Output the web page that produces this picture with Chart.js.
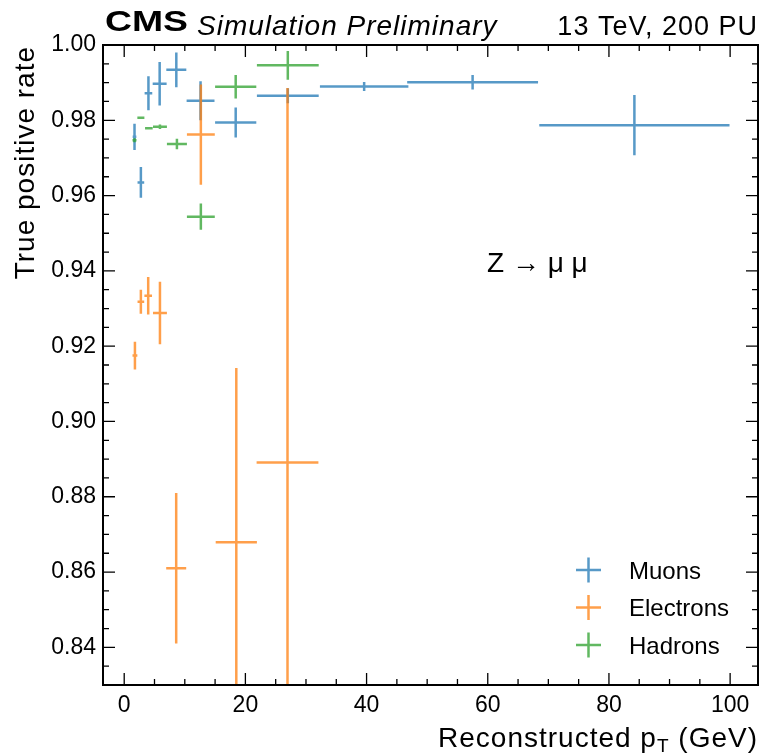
<!DOCTYPE html>
<html>
<head>
<meta charset="utf-8">
<script src="https://cdn.jsdelivr.net/npm/chart.js@4.4.1/dist/chart.umd.min.js"></script>
<style>
  html, body { margin: 0; padding: 0; background: #fff; }
  #wrap { width: 761px; height: 754px; }
</style>
</head>
<body>
<div id="wrap"><canvas id="chart" width="761" height="754"></canvas></div>
<script>
// values
const muonX = [1.7, 2.75, 4.0, 5.85, 8.6, 12.6, 18.4, 27.0, 39.6, 57.5, 84.2];
const muonXErr = [0.3, 0.55, 0.63, 1.15, 1.65, 2.3, 3.4, 5.1, 7.3, 10.8, 15.7];
const muonY = [0.9756, 0.9635, 0.9872, 0.9897, 0.9934, 0.9852, 0.9794, 0.9865, 0.9890, 0.9901, 0.9787];
const muonYErr = [0.0035, 0.0041, 0.0045, 0.0058, 0.0046, 0.0052, 0.0040, 0.0020, 0.0012, 0.0019, 0.0080];

const electronX = [1.77, 2.75, 3.96, 5.9, 8.58, 12.65, 18.5, 26.95];
const electronXErr = [0.4, 0.55, 0.63, 1.15, 1.65, 2.3, 3.4, 5.1];
const electronY = [0.9175, 0.9318, 0.9334, 0.9288, 0.8610, 0.9762, 0.8679, 0.8891];
const electronYErr = [0.0037, 0.0032, 0.0050, 0.0083, 0.0200, 0.0133, 0.0463, 0.0995];

const hadronX = [1.7, 2.75, 4.07, 5.9, 8.7, 12.65, 18.4, 27.0];
const hadronXErr = [0.33, 0.58, 0.63, 1.15, 1.65, 2.3, 3.4, 5.1];
const hadronY = [0.9747, 0.9807, 0.9779, 0.9783, 0.9737, 0.9544, 0.9889, 0.9946];
const hadronYErr = [0.0005, 0.0003, 0.0003, 0.0006, 0.0014, 0.0035, 0.0031, 0.0038];

const xTicks = [0, 20, 40, 60, 80, 100];
const yTicks = [0.84, 0.86, 0.88, 0.90, 0.92, 0.94, 0.96, 0.98, 1.00];

const FONT = '"Liberation Sans", Arial, sans-serif';

function points(xs, xe, ys, ye) {
    return xs.map((x, i) => ({ x: x, y: ys[i], xErr: xe[i], yErr: ye[i] }));
}

// crosses: x bin width and y uncertainty
const errorBars = {
    id: 'errorBars',
    afterDatasetsDraw(chart) {
        const { ctx, chartArea: a, scales: { x, y } } = chart;
        ctx.save();
        ctx.beginPath();
        ctx.rect(a.left, a.top, a.width, a.height);
        ctx.clip();
        chart.data.datasets.forEach(ds => {
            ctx.strokeStyle = ds.borderColor;
            ctx.lineWidth = 2.5;
            ds.data.forEach(p => {
                const px = x.getPixelForValue(p.x);
                const py = y.getPixelForValue(p.y);
                ctx.beginPath();
                ctx.moveTo(x.getPixelForValue(p.x - p.xErr), py);
                ctx.lineTo(x.getPixelForValue(p.x + p.xErr), py);
                ctx.moveTo(px, y.getPixelForValue(p.y - p.yErr));
                ctx.lineTo(px, y.getPixelForValue(p.y + p.yErr));
                ctx.stroke();
            });
        });
        ctx.restore();
    }
};

// frame, inward ticks, labels, legend
const decorations = {
    id: 'decorations',
    afterDraw(chart) {
        const { ctx, chartArea: a, scales: { x, y } } = chart;
        ctx.save();
        ctx.strokeStyle = '#000';
        ctx.lineWidth = 1.3;
        ctx.beginPath();
        for (let v = 0; v <= x.max; v += 5) {
            const px = x.getPixelForValue(v);
            const len = xTicks.includes(v) ? 12 : 6;
            ctx.moveTo(px, a.bottom); ctx.lineTo(px, a.bottom - len);
            ctx.moveTo(px, a.top); ctx.lineTo(px, a.top + len);
        }
        for (let k = 166; k <= 200; k++) {
            const v = k * 0.005;
            const py = y.getPixelForValue(v);
            const len = (k % 4 === 0) ? 12 : 6;
            ctx.moveTo(a.left, py); ctx.lineTo(a.left + len, py);
            ctx.moveTo(a.right, py); ctx.lineTo(a.right - len, py);
        }
        ctx.stroke();

        ctx.lineWidth = 2;
        ctx.strokeRect(a.left, a.top, a.width, a.height);

        ctx.fillStyle = '#000';
        ctx.textBaseline = 'alphabetic';

        // CMS label
        ctx.font = 'bold 30px ' + FONT;
        const w = ctx.measureText('CMS').width;
        ctx.save();
        ctx.translate(a.left + 2, 31);
        ctx.scale(83 / w, 1);
        ctx.fillText('CMS', 0, 0);
        ctx.restore();
        ctx.letterSpacing = '1px';
        ctx.font = 'italic 28px ' + FONT;
        ctx.textAlign = 'left';
        ctx.fillText('Simulation Preliminary', 197, 35);
        ctx.font = '27px ' + FONT;
        ctx.textAlign = 'right';
        ctx.fillText('13 TeV, 200 PU', a.right, 35);

        // x title with subscript
        ctx.font = '28px ' + FONT;
        const tail = ' (GeV)';
        const tailW = ctx.measureText(tail).width;
        ctx.textAlign = 'right';
        ctx.fillText(tail, a.right, 747);
        ctx.font = '19px ' + FONT;
        const subW = ctx.measureText('T').width;
        ctx.fillText('T', a.right - tailW, 752);
        ctx.font = '28px ' + FONT;
        ctx.fillText('Reconstructed p', a.right - tailW - subW, 747);

        // y title
        ctx.save();
        ctx.translate(34, a.top + 1);
        ctx.rotate(-Math.PI / 2);
        ctx.textAlign = 'right';
        ctx.fillText('True positive rate', 0, 0);
        ctx.restore();

        // annotation
        ctx.letterSpacing = '0px';
        ctx.textAlign = 'left';
        ctx.font = '28px ' + FONT;
        ctx.fillText('Z \u2192 \u03bc \u03bc', 487, 272);

        // legend
        const rows = [570, 607.5, 645];
        ctx.font = '24px ' + FONT;
        chart.data.datasets.forEach((ds, i) => {
            const cy = rows[i];
            ctx.strokeStyle = ds.borderColor;
            ctx.lineWidth = 2.5;
            ctx.beginPath();
            ctx.moveTo(576, cy); ctx.lineTo(601, cy);
            ctx.moveTo(588.5, cy - 12.5); ctx.lineTo(588.5, cy + 12.5);
            ctx.stroke();
            ctx.fillStyle = '#000';
            ctx.fillText(ds.label, 629, cy + 8.5);
        });
        ctx.restore();
    }
};

new Chart(document.getElementById('chart'), {
    type: 'scatter',
    data: {
        datasets: [{
            label: 'Muons',
            data: points(muonX, muonXErr, muonY, muonYErr),
            borderColor: 'rgba(31, 119, 180, 0.75)',
            backgroundColor: 'rgba(31, 119, 180, 0.75)'
        }, {
            label: 'Electrons',
            data: points(electronX, electronXErr, electronY, electronYErr),
            borderColor: 'rgba(255, 127, 14, 0.75)',
            backgroundColor: 'rgba(255, 127, 14, 0.75)'
        }, {
            label: 'Hadrons',
            data: points(hadronX, hadronXErr, hadronY, hadronYErr),
            borderColor: 'rgba(44, 160, 44, 0.75)',
            backgroundColor: 'rgba(44, 160, 44, 0.75)'
        }]
    },
    options: {
        responsive: false,
        devicePixelRatio: 1,
        animation: false,
        elements: { point: { radius: 0, hoverRadius: 0 } },
        layout: { padding: { left: 0, right: 3, top: 45, bottom: 0 } },
        plugins: {
            legend: { display: false },
            tooltip: { enabled: false }
        },
        scales: {
            x: {
                type: 'linear',
                min: -3.5,
                max: 104.6,
                afterBuildTicks: s => { s.ticks = xTicks.map(v => ({ value: v })); },
                afterFit: s => { s.height = 69; },
                grid: { display: false, drawTicks: false },
                border: { display: false },
                ticks: {
                    color: '#000',
                    padding: 7,
                    maxRotation: 0,
                    font: { family: FONT, size: 23 }
                }
            },
            y: {
                type: 'linear',
                min: 0.83,
                max: 1.0,
                afterBuildTicks: s => { s.ticks = yTicks.map(v => ({ value: v })); },
                afterFit: s => { s.width = 103; },
                grid: { display: false, drawTicks: false },
                border: { display: false },
                ticks: {
                    color: '#000',
                    padding: 7,
                    font: { family: FONT, size: 23 },
                    callback: v => v.toFixed(2)
                }
            }
        }
    },
    plugins: [errorBars, decorations]
});
</script>
</body>
</html>
